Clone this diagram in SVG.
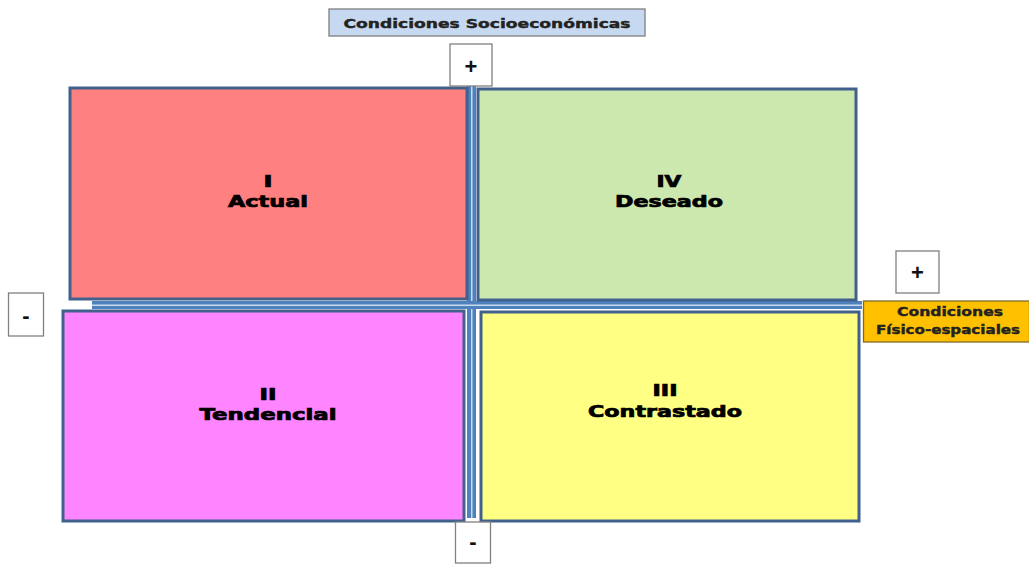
<svg xmlns="http://www.w3.org/2000/svg" width="1029" height="564" viewBox="0 0 1029 564">
<style>
.q{stroke:#41618c;stroke-width:3}
.lbl{font-family:"DejaVu Sans","Liberation Sans",sans-serif;font-weight:bold;fill:#000;text-anchor:middle}
.big{font-size:15px;stroke:#000;stroke-width:0.7}
.sm{font-size:12px;fill:#222;stroke:#222;stroke-width:0.4}
.sign{fill:#fff;stroke:#808080;stroke-width:1.3}
.st{font-family:"Liberation Sans",sans-serif;font-weight:bold;font-size:22px;fill:#111;text-anchor:middle}
</style>
<rect width="1029" height="564" fill="#fff"/>
<g id="axes">
<rect x="467" y="86" width="9" height="432" fill="#4f81bd"/>
<rect x="471" y="86" width="1.5" height="432" fill="#c9d9ee"/>
<rect x="92" y="301" width="770" height="8" fill="#4f81bd"/>
<rect x="92" y="304.5" width="770" height="1.5" fill="#c9d9ee"/>
</g>
<g id="q1"><rect class="q" x="70" y="88" width="397" height="211" fill="#ff8080"/>
<text class="lbl big" x="268" y="187" textLength="9" lengthAdjust="spacingAndGlyphs">I</text>
<text class="lbl big" x="268" y="207" textLength="80" lengthAdjust="spacingAndGlyphs">Actual</text></g>
<g id="q4"><rect class="q" x="478" y="89" width="378" height="211" fill="#cde8ae"/>
<text class="lbl big" x="669" y="187" textLength="25" lengthAdjust="spacingAndGlyphs">IV</text>
<text class="lbl big" x="669" y="207" textLength="108" lengthAdjust="spacingAndGlyphs">Deseado</text></g>
<g id="q2"><rect class="q" x="63" y="311" width="401" height="210" fill="#ff84ff"/>
<text class="lbl big" x="268" y="400" textLength="17" lengthAdjust="spacingAndGlyphs">II</text>
<text class="lbl big" x="268" y="420" textLength="137" lengthAdjust="spacingAndGlyphs">Tendencial</text></g>
<g id="q3"><rect class="q" x="481" y="312" width="378" height="209" fill="#ffff84"/>
<text class="lbl big" x="665" y="396" textLength="25" lengthAdjust="spacingAndGlyphs">III</text>
<text class="lbl big" x="665" y="417" textLength="154" lengthAdjust="spacingAndGlyphs">Contrastado</text></g>
<g id="top-label"><rect x="329" y="9" width="316" height="27" fill="#c6d9f1" stroke="#7f7f7f" stroke-width="1.3"/>
<text class="lbl sm" x="487" y="28" textLength="287" lengthAdjust="spacingAndGlyphs">Condiciones Socioeconómicas</text></g>
<g id="right-label"><rect x="863.5" y="301" width="166" height="41" fill="#ffc000" stroke="#7f6a2a" stroke-width="1.3"/>
<text class="lbl sm" x="950" y="316" font-size="11" textLength="106" lengthAdjust="spacingAndGlyphs">Condiciones</text>
<text class="lbl sm" x="948" y="334" font-size="11" textLength="144" lengthAdjust="spacingAndGlyphs">Físico-espaciales</text></g>
<g id="plus-top"><rect class="sign" x="450" y="44" width="42" height="42"/><text class="st" x="471" y="74">+</text></g>
<g id="plus-right"><rect class="sign" x="896" y="251" width="43" height="42"/><text class="st" x="917.5" y="280">+</text></g>
<g id="minus-left"><rect class="sign" x="8.5" y="293" width="35" height="43"/><text class="st" x="26" y="323">-</text></g>
<g id="minus-bottom"><rect class="sign" x="455.5" y="522" width="35" height="41"/><text class="st" x="473" y="549">-</text></g>
</svg>
